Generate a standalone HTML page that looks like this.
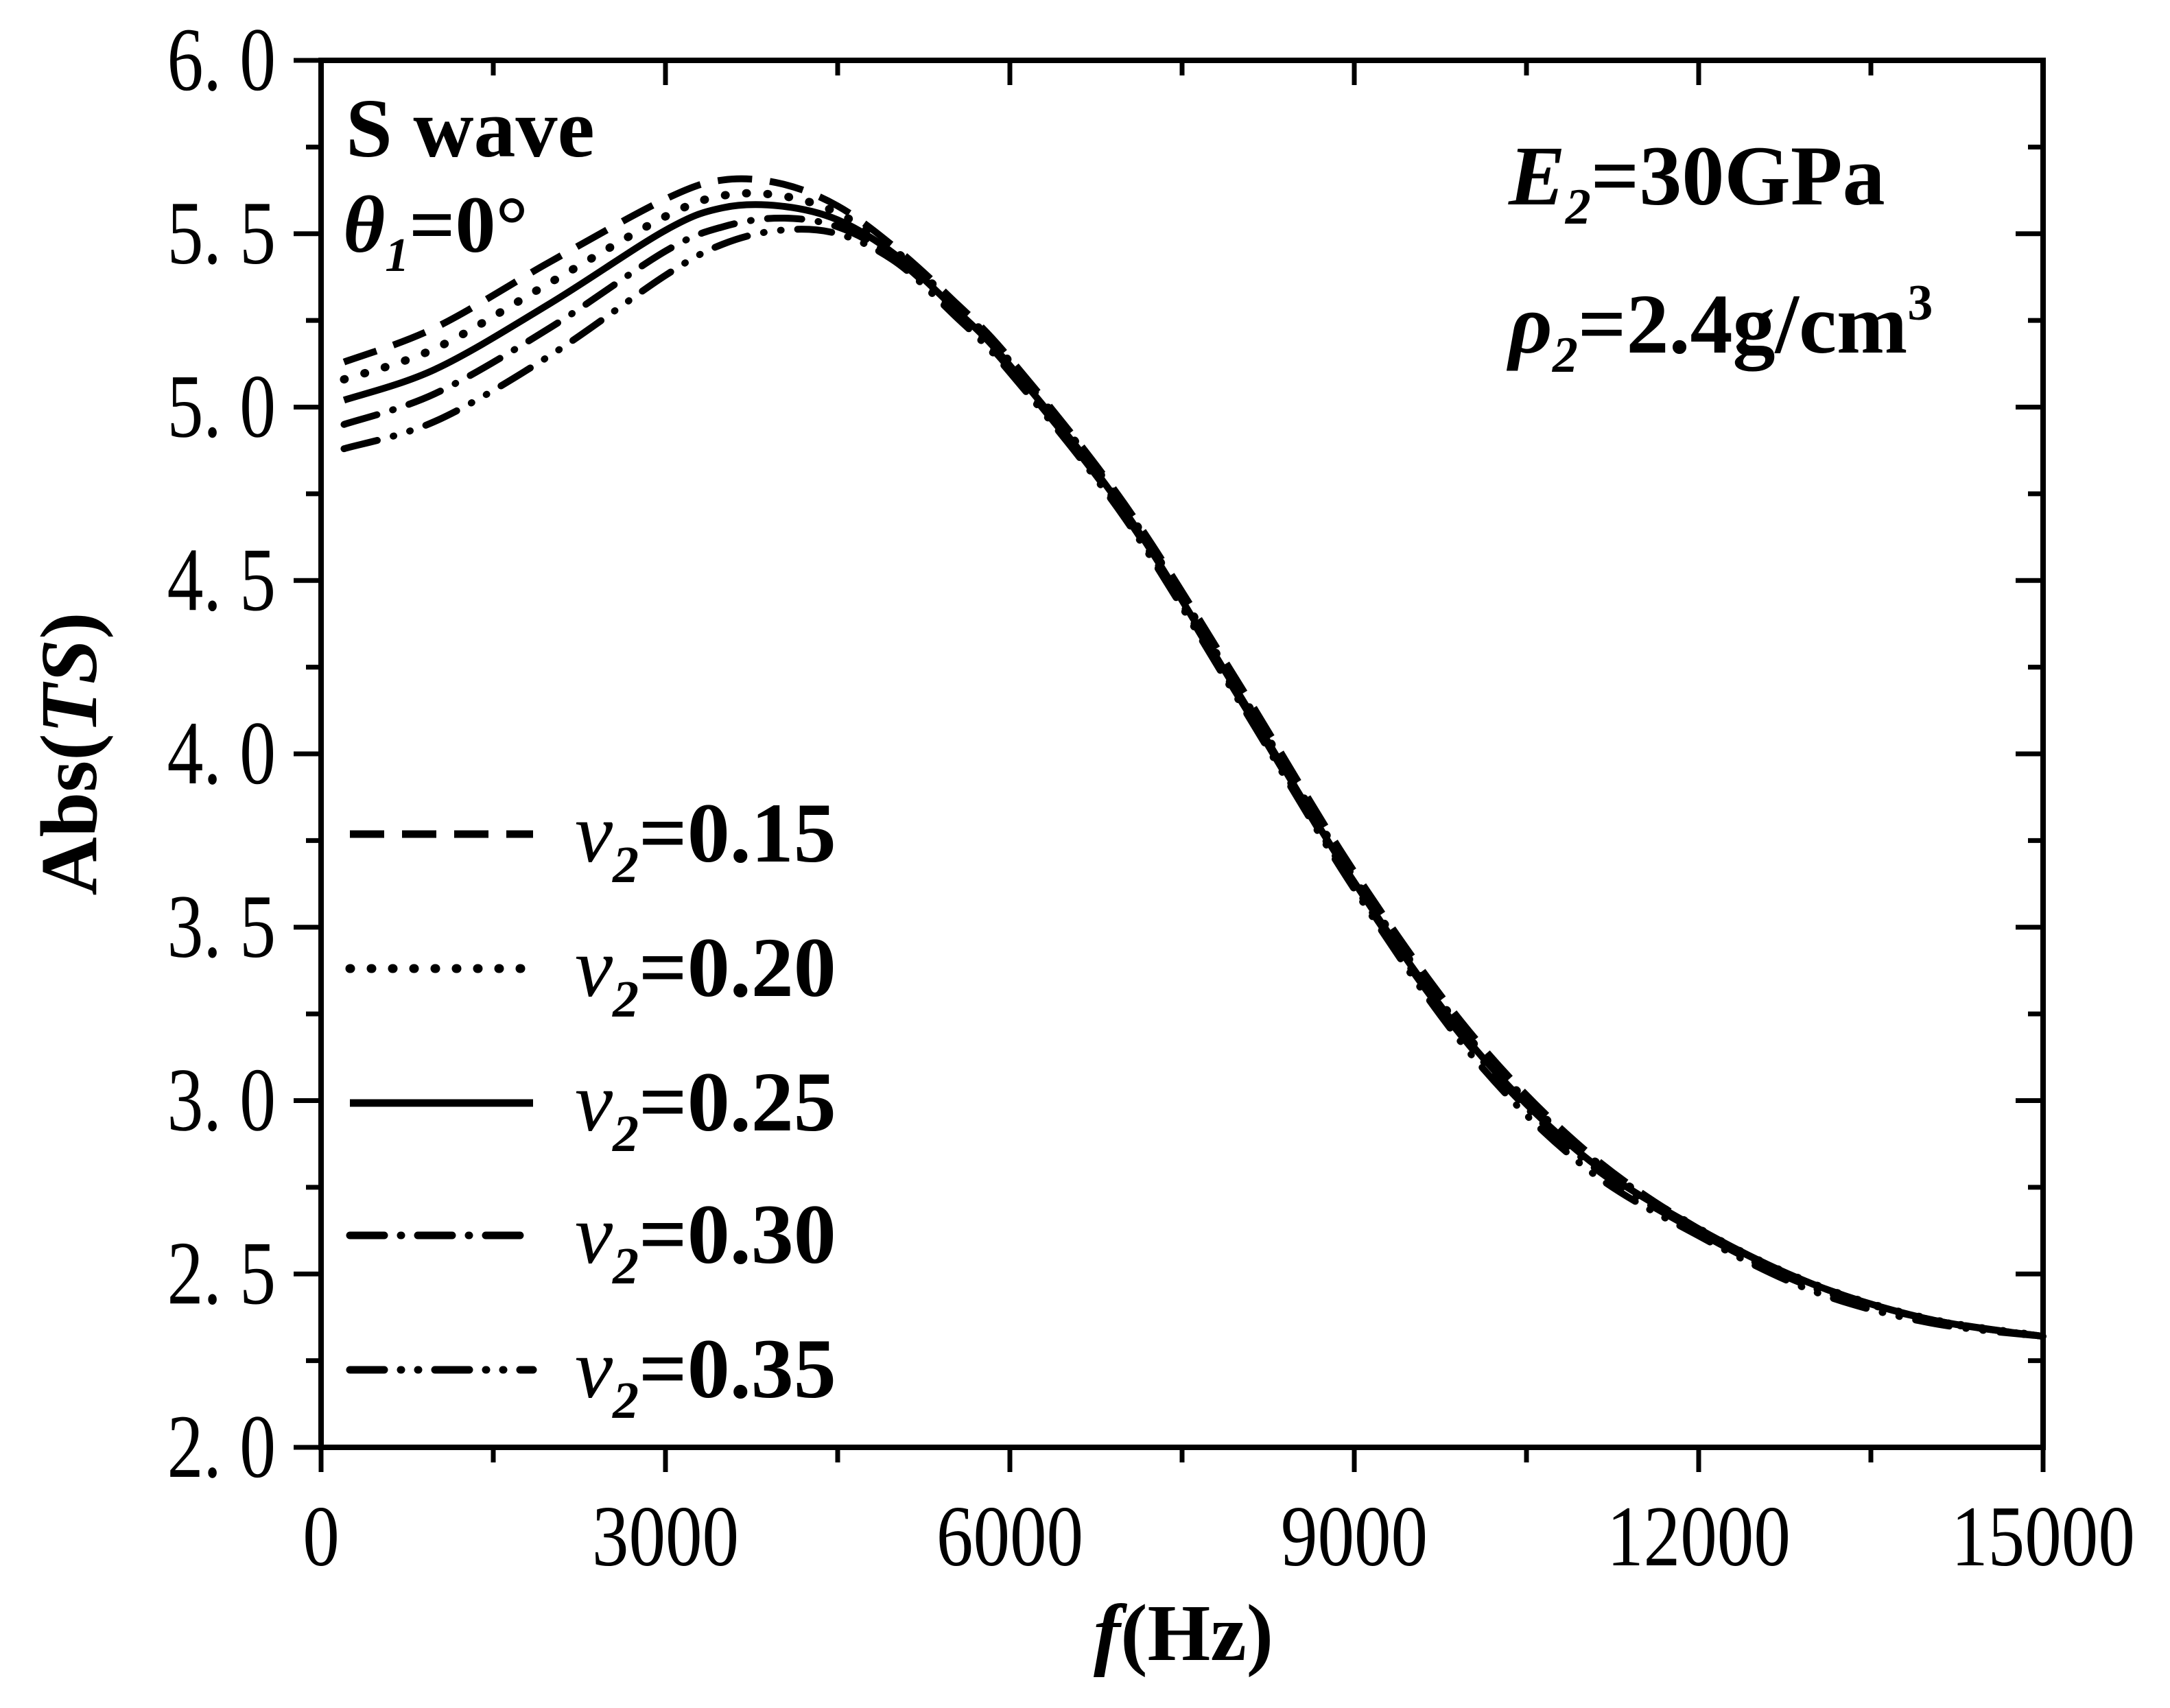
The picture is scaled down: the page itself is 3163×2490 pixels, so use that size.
<!DOCTYPE html>
<html><head><meta charset="utf-8"><style>body{margin:0;background:#fff}svg{display:block}</style></head>
<body>
<svg id="chart" width="3163" height="2490" viewBox="0 0 3163 2490" xmlns="http://www.w3.org/2000/svg" font-family="Liberation Serif, serif">
<g id="axes"></g>
<g id="series"></g>
<g id="legend"></g>
<text x="504" y="228" font-size="122" font-weight="bold">S wave</text>
<text x="500" y="367" font-size="118" font-weight="bold"><tspan font-style="italic">θ</tspan><tspan font-style="italic" font-size="70" dy="28">1</tspan><tspan dy="-28">=0°</tspan></text>
<text x="2199" y="298" font-size="124" font-weight="bold"><tspan font-style="italic">E</tspan><tspan font-style="italic" font-size="74" dy="28">2</tspan><tspan dy="-28">=30GPa</tspan></text>
<text x="2199" y="514" font-size="124" font-weight="bold"><tspan font-style="italic">ρ</tspan><tspan font-style="italic" font-size="74" dy="28">2</tspan><tspan dy="-28">=2.4g/cm</tspan><tspan font-size="74" dy="-48">3</tspan></text>
<text transform="translate(140,1099) rotate(-90)" text-anchor="middle" font-size="118" font-weight="bold">Abs(<tspan font-style="italic">TS</tspan>)</text>
<text x="1725" y="2420" text-anchor="middle" font-size="118" font-weight="bold"><tspan font-style="italic">f</tspan>(Hz)</text>
</svg>
<script>
const freqs=[200,1000,2000,3000,3500,4000,4500,5000,5500,6000,7000,8000,9000,10000,11000,12000,13000,14000,15000];
const seriesNames=["0.15","0.20","0.25","0.30","0.35"];
const v015=[5.13,5.23,5.42,5.60,5.655,5.645,5.58,5.46,5.31,5.14,4.72,4.20,3.66,3.20,2.86,2.63,2.47,2.37,2.32];
const v020=[5.08,5.17,5.36,5.55,5.61,5.61,5.56,5.45,5.30,5.13,4.71,4.18,3.64,3.18,2.85,2.63,2.47,2.37,2.32];
const v025=[5.02,5.11,5.30,5.51,5.575,5.58,5.54,5.44,5.29,5.12,4.70,4.17,3.63,3.17,2.84,2.63,2.47,2.37,2.32];
const v030=[4.95,5.04,5.23,5.45,5.52,5.545,5.52,5.43,5.28,5.11,4.69,4.16,3.62,3.16,2.83,2.62,2.46,2.37,2.32];
const v035=[4.88,4.96,5.15,5.38,5.47,5.51,5.50,5.42,5.27,5.10,4.68,4.15,3.61,3.14,2.81,2.61,2.45,2.36,2.32];
const xTicks=[0,3000,6000,9000,12000,15000];
const yTicks=[2.0,2.5,3.0,3.5,4.0,4.5,5.0,5.5,6.0];
const yTickLabels=["2. 0","2. 5","3. 0","3. 5","4. 0","4. 5","5. 0","5. 5","6. 0"];

const NS="http://www.w3.org/2000/svg";
const L=468,R=2978,T=88,B=2110;
const X=v=>L+(v-0)/15000*(R-L);
const Y=v=>B-(v-2)/4*(B-T);
function mk(tag,attrs,parent){const e=document.createElementNS(NS,tag);for(const k in attrs)e.setAttribute(k,attrs[k]);parent.appendChild(e);return e;}
const axes=document.getElementById('axes');
const frame=mk('rect',{x:L,y:T,width:R-L,height:B-T,fill:'none',stroke:'#000','stroke-width':8},axes);


for(let v=0;v<=15000;v+=1500){
  const major=v%3000===0;const x=X(v);
  const t=mk('line',{x1:x,x2:x,y1:B,y2:B+(major?36:22),stroke:'#000','stroke-width':7},axes);
  
  
  const t2=mk('line',{x1:x,x2:x,y1:T,y2:T+(major?36:22),stroke:'#000','stroke-width':7},axes);
  
  
}
xTicks.forEach(v=>{
  const t=mk('text',{transform:`translate(${X(v)},2282) scale(0.85,1)`,'text-anchor':'middle','font-size':126},axes);
  t.textContent=String(v);
  
  
});
for(let i=0;i<=16;i++){
  const v=2+i*0.25;const major=i%2===0;const y=Y(v);
  const t=mk('line',{x1:L-(major?40:22),x2:L,y1:y,y2:y,stroke:'#000','stroke-width':7},axes);
  
  
  const t2=mk('line',{x1:R-(major?40:22),x2:R,y1:y,y2:y,stroke:'#000','stroke-width':7},axes);
  
  
}
yTicks.forEach((v,i)=>{
  const t=mk('text',{transform:`translate(402,${Y(v)+43}) scale(0.8,1)`,'text-anchor':'end','font-size':132},axes);
  t.textContent=yTickLabels[i];
  
  
});
const dashes=["50 26","1 30","","50 24 1 24","50 24 1 24 1 24"];
const caps=["butt","round","butt","round","round"];
const allVals=[v015,v020,v025,v030,v035];
function pathFor(vals){
  const p=freqs.map((f,i)=>[X(f),Y(vals[i])]);
  let d='M'+p[0][0]+','+p[0][1];
  for(let i=0;i<p.length-1;i++){
    const p0=p[Math.max(0,i-1)],p1=p[i],p2=p[i+1],p3=p[Math.min(p.length-1,i+2)];
    const c1=[p1[0]+(p2[0]-p0[0])/6,p1[1]+(p2[1]-p0[1])/6];
    const c2=[p2[0]-(p3[0]-p1[0])/6,p2[1]-(p3[1]-p1[1])/6];
    d+=` C${c1[0]},${c1[1]} ${c2[0]},${c2[1]} ${p2[0]},${p2[1]}`;
  }
  return d;
}
const sg=document.getElementById('series'),lg=document.getElementById('legend');
const legY=[1216,1412,1608,1801,1997];
allVals.forEach((vals,i)=>{
  const a={d:pathFor(vals),fill:'none',stroke:'#000','stroke-width':(i===1?12:10),'stroke-linecap':caps[i]};
  if(dashes[i])a['stroke-dasharray']=dashes[i];
  const p=mk('path',a,sg);
  
  
  const la={x1:510,x2:777,y1:legY[i],y2:legY[i],stroke:'#000','stroke-width':(i===1?13:11),'stroke-linecap':caps[i]};
  if(dashes[i])la['stroke-dasharray']=dashes[i];
  const ln=mk('line',la,lg);
  
  
  const t=mk('text',{x:838,y:legY[i]+40,'font-size':124,'font-weight':'bold'},lg);
  t.innerHTML='<tspan font-style="italic" font-weight="normal">ν</tspan><tspan font-style="italic" font-size="76" dy="30">2</tspan><tspan dy="-30">=0.'+seriesNames[i].slice(2)+'</tspan>';
  
  
});
</script>
</body></html>
